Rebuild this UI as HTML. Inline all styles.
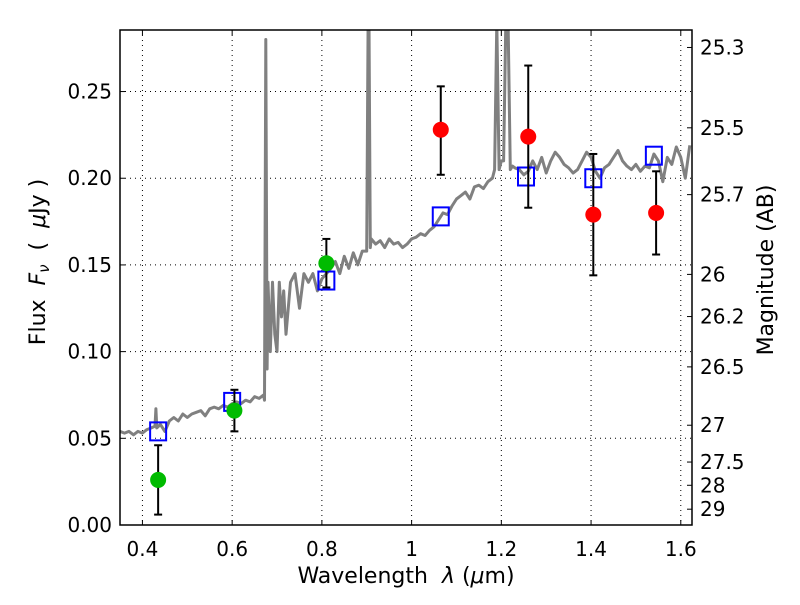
<!DOCTYPE html>
<html><head><meta charset="utf-8"><style>
body{margin:0;background:#fff}
svg text{font-family:"DejaVu Sans","Liberation Sans",sans-serif;fill:#000}
</style></head><body>
<svg id="chart" width="800" height="600"></svg>
<script>
const specLam=[0.35,0.36,0.37,0.38,0.39,0.40,0.41,0.42,0.428,0.43,0.432,0.44,0.45,0.46,0.47,0.48,0.49,0.50,0.51,0.52,0.53,0.54,0.55,0.56,0.57,0.58,0.59,0.60,0.61,0.62,0.63,0.64,0.65,0.66,0.67,0.672,0.675,0.678,0.68,0.685,0.69,0.695,0.70,0.705,0.71,0.715,0.72,0.73,0.74,0.75,0.76,0.77,0.78,0.79,0.80,0.81,0.82,0.83,0.84,0.85,0.86,0.87,0.88,0.89,0.90,0.903,0.905,0.908,0.91,0.92,0.93,0.94,0.95,0.96,0.97,0.98,0.99,1.00,1.01,1.02,1.03,1.04,1.05,1.06,1.07,1.08,1.09,1.10,1.11,1.12,1.13,1.14,1.15,1.16,1.17,1.18,1.185,1.19,1.195,1.20,1.205,1.21,1.215,1.22,1.225,1.23,1.24,1.25,1.26,1.27,1.28,1.29,1.30,1.31,1.32,1.33,1.34,1.35,1.36,1.37,1.38,1.39,1.40,1.41,1.42,1.43,1.44,1.45,1.46,1.47,1.48,1.49,1.50,1.51,1.52,1.53,1.54,1.55,1.56,1.57,1.58,1.59,1.60,1.61,1.62];
const specFlux=[0.054,0.053,0.054,0.052,0.054,0.053,0.055,0.056,0.057,0.067,0.056,0.058,0.054,0.06,0.062,0.06,0.064,0.062,0.064,0.065,0.066,0.063,0.067,0.068,0.067,0.069,0.068,0.07,0.071,0.07,0.072,0.071,0.074,0.073,0.075,0.072,0.28,0.09,0.14,0.10,0.14,0.11,0.10,0.14,0.12,0.135,0.11,0.14,0.145,0.125,0.145,0.14,0.145,0.135,0.142,0.145,0.148,0.152,0.145,0.155,0.148,0.157,0.15,0.158,0.158,0.29,0.29,0.16,0.165,0.162,0.164,0.160,0.165,0.162,0.163,0.16,0.162,0.165,0.166,0.168,0.167,0.170,0.172,0.176,0.180,0.179,0.184,0.188,0.190,0.192,0.188,0.195,0.196,0.194,0.198,0.200,0.205,0.29,0.205,0.21,0.21,0.29,0.29,0.205,0.207,0.206,0.205,0.202,0.204,0.210,0.205,0.212,0.203,0.210,0.215,0.212,0.208,0.206,0.203,0.205,0.210,0.215,0.212,0.204,0.200,0.206,0.208,0.212,0.216,0.210,0.207,0.205,0.208,0.204,0.207,0.206,0.214,0.210,0.198,0.212,0.208,0.218,0.212,0.200,0.219,0.216,0.218];
const photLam=[0.435,0.605,0.81,1.065,1.26,1.405,1.545];
const photFlux=[0.026,0.066,0.151,0.228,0.224,0.179,0.180];
const photLo=[0.006,0.054,0.137,0.202,0.183,0.144,0.156];
const photHi=[0.046,0.078,0.165,0.253,0.265,0.214,0.204];
const photColor=["#00bb00","#00bb00","#00bb00","#ff0000","#ff0000","#ff0000","#ff0000"];
const modelLam=[0.435,0.6,0.81,1.065,1.255,1.405,1.54];
const modelFlux=[0.054,0.071,0.141,0.178,0.201,0.200,0.213];
const xTicks=[0.4,0.6,0.8,1.0,1.2,1.4,1.6];
const xTickLabels=["0.4","0.6","0.8","1","1.2","1.4","1.6"];
const yTicks=[0,0.05,0.10,0.15,0.20,0.25];
const yTickLabels=["0.00","0.05","0.10","0.15","0.20","0.25"];
const magTicks=[25.3,25.5,25.7,26,26.2,26.5,27,27.5,28,29];
const magTickLabels=["25.3","25.5","25.7","26","26.2","26.5","27","27.5","28","29"];

const L=120,R=692,T=30,B=525,xmin=0.35,xmax=1.625,ymin=0,ymax=0.2855;
const sx=v=>L+(v-xmin)/(xmax-xmin)*(R-L);
const sy=v=>B-(v-ymin)/(ymax-ymin)*(B-T);
const NS="http://www.w3.org/2000/svg";
const svg=document.getElementById('chart');
function mk(tag,attrs,parent){const e=document.createElementNS(NS,tag);for(const k in attrs)e.setAttribute(k,attrs[k]);(parent||svg).appendChild(e);return e;}

const clip=mk('clipPath',{id:'clip'});mk('rect',{x:L,y:T,width:R-L,height:B-T},clip);

xTicks.forEach((v,i)=>{
  const g=mk('line',{x1:sx(v),x2:sx(v),y1:T,y2:B,stroke:'#000','stroke-width':1,'stroke-dasharray':'1,4'});
  
  
  mk('line',{x1:sx(v),x2:sx(v),y1:B,y2:B-5,stroke:'#000'});
  mk('line',{x1:sx(v),x2:sx(v),y1:T,y2:T+5,stroke:'#000'});
  const t=mk('text',{x:sx(v),y:B+31,'text-anchor':'middle','font-size':20});
  t.textContent=xTickLabels[i];
  
  
});
yTicks.forEach((v,i)=>{
  const g=mk('line',{x1:L,x2:R,y1:sy(v),y2:sy(v),stroke:'#000','stroke-width':1,'stroke-dasharray':'1,4'});
  
  
  mk('line',{x1:L,x2:L+5,y1:sy(v),y2:sy(v),stroke:'#000'});
  const t=mk('text',{x:L-8,y:sy(v)+7,'text-anchor':'end','font-size':20});
  t.textContent=yTickLabels[i];
  
  
});
magTicks.forEach((m,i)=>{
  const f=Math.pow(10,(23.9-m)/2.5);
  const y=sy(f);
  mk('line',{x1:R,x2:R-5,y1:y,y2:y,stroke:'#000'});
  const t=mk('text',{x:R+8,y:y+7,'font-size':20});
  t.textContent=magTickLabels[i];
  
  
});

const pts=specLam.map((l,i)=>sx(l).toFixed(1)+','+sy(specFlux[i]).toFixed(1)).join(' ');
const sp=mk('polyline',{points:pts,fill:'none',stroke:'#808080','stroke-width':3,'clip-path':'url(#clip)','stroke-linejoin':'round'});



modelLam.forEach((l,i)=>{
  const r=mk('rect',{x:sx(l)-8,y:sy(modelFlux[i])-9,width:16,height:18,fill:'none',stroke:'#0000ff','stroke-width':2});
  
  
});
photLam.forEach((l,i)=>{
  const x=sx(l);
  const e=mk('g',{});
  
  
  mk('line',{x1:x,x2:x,y1:sy(photLo[i]),y2:sy(photHi[i]),stroke:'#000','stroke-width':2},e);
  mk('line',{x1:x-4,x2:x+4,y1:sy(photLo[i]),y2:sy(photLo[i]),stroke:'#000','stroke-width':2},e);
  mk('line',{x1:x-4,x2:x+4,y1:sy(photHi[i]),y2:sy(photHi[i]),stroke:'#000','stroke-width':2},e);
  const c=mk('circle',{cx:x,cy:sy(photFlux[i]),r:8,fill:photColor[i]});
  
  
});

const fr=mk('rect',{x:L,y:T,width:R-L,height:B-T,fill:'none',stroke:'#000','stroke-width':1.5});


</script>
<svg width="800" height="600" style="position:absolute;left:0;top:0">
<text x="406" y="583" text-anchor="middle" font-size="22" xml:space="preserve">Wavelength  <tspan font-style="italic">λ</tspan> (<tspan font-style="italic">μ</tspan>m)</text>
<text transform="translate(45,262) rotate(-90)" text-anchor="middle" font-size="22" xml:space="preserve">Flux  <tspan font-style="italic">F<tspan font-size="15" dy="4">ν</tspan></tspan><tspan dy="-4">  (  </tspan><tspan font-style="italic">μ</tspan>Jy )</text>
<text transform="translate(773,270) rotate(-90)" text-anchor="middle" font-size="22">Magnitude (AB)</text>
</svg>
</body></html>
